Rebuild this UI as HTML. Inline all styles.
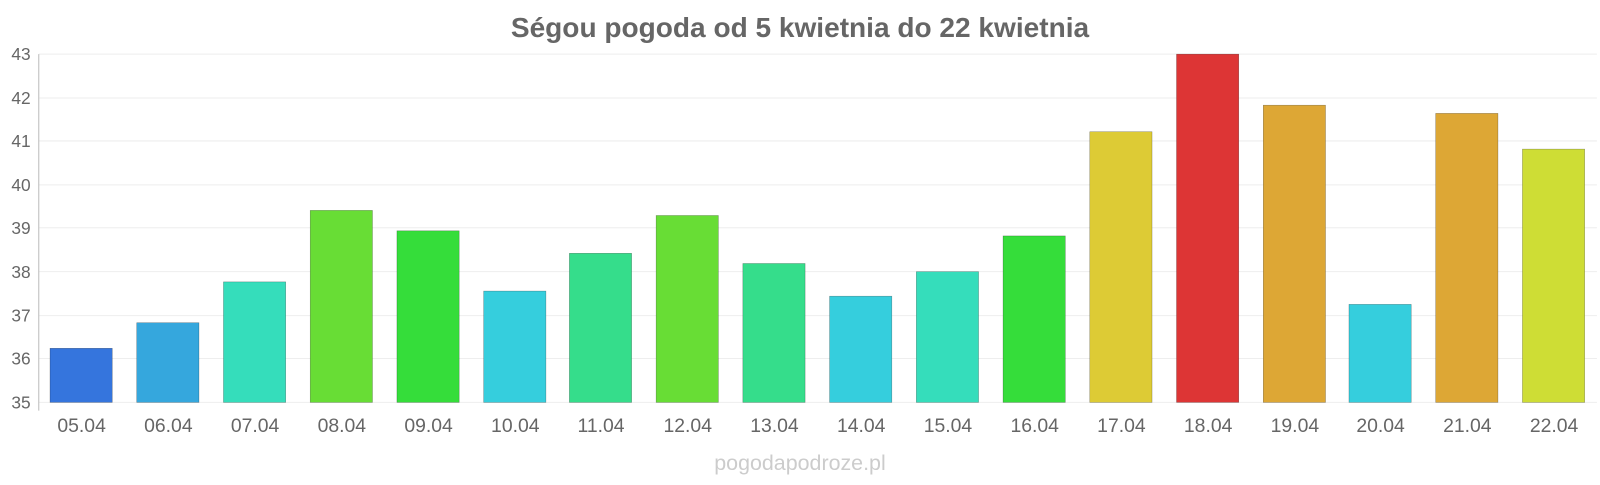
<!DOCTYPE html>
<html><head><meta charset="utf-8"><style>
body{margin:0;background:#fff;width:1600px;height:480px;overflow:hidden;font-family:"Liberation Sans",sans-serif}
</style></head><body>
<svg width="1600" height="480" xmlns="http://www.w3.org/2000/svg" font-family="Liberation Sans, sans-serif">
<g transform="scale(1.0204,1.0213)">
<text x="784" y="36" text-anchor="middle" font-size="27.5" font-weight="bold" fill="#666">Ségou pogoda od 5 kwietnia do 22 kwietnia</text>
<g stroke="#eee" stroke-width="1">
<line x1="38" x2="1565" y1="53" y2="53"/><line x1="38" x2="1565" y1="96" y2="96"/><line x1="38" x2="1565" y1="138" y2="138"/><line x1="38" x2="1565" y1="181" y2="181"/><line x1="38" x2="1565" y1="223" y2="223"/><line x1="38" x2="1565" y1="266" y2="266"/><line x1="38" x2="1565" y1="309" y2="309"/><line x1="38" x2="1565" y1="351" y2="351"/><line x1="38" x2="1565" y1="394" y2="394"/>
</g>
<line x1="38" x2="38" y1="53" y2="402" stroke="#bbb"/>
<g font-size="17" fill="#666" text-anchor="end">
<text x="30" y="59">43</text><text x="30" y="102">42</text><text x="30" y="144">41</text><text x="30" y="187">40</text><text x="30" y="229">39</text><text x="30" y="272">38</text><text x="30" y="315">37</text><text x="30" y="357">36</text><text x="30" y="400">35</text>
</g>
<g stroke-opacity="0.4" stroke="#000" stroke-width="0.5">
<rect x="49" y="341" width="61" height="53" fill="#3575dd"/>
<rect x="134" y="316" width="61" height="78" fill="#35a7dd"/>
<rect x="219" y="276" width="61" height="118" fill="#35ddbb"/>
<rect x="304" y="206" width="61" height="188" fill="#68dd35"/>
<rect x="389" y="226" width="61" height="168" fill="#35dd3a"/>
<rect x="474" y="285" width="61" height="109" fill="#35cedd"/>
<rect x="558" y="248" width="61" height="146" fill="#35dd8b"/>
<rect x="643" y="211" width="61" height="183" fill="#68dd35"/>
<rect x="728" y="258" width="61" height="136" fill="#35dd8b"/>
<rect x="813" y="290" width="61" height="104" fill="#35cedd"/>
<rect x="898" y="266" width="61" height="128" fill="#35ddbb"/>
<rect x="983" y="231" width="61" height="163" fill="#35dd3a"/>
<rect x="1068" y="129" width="61" height="265" fill="#ddcb35"/>
<rect x="1153" y="53" width="61" height="341" fill="#dd3535"/>
<rect x="1238" y="103" width="61" height="291" fill="#dda735"/>
<rect x="1322" y="298" width="61" height="96" fill="#35cedd"/>
<rect x="1407" y="111" width="61" height="283" fill="#dda735"/>
<rect x="1492" y="146" width="61" height="248" fill="#cedd35"/>
</g>
<g font-size="19" fill="#666" text-anchor="middle">
<text x="80" y="423">05.04</text><text x="165" y="423">06.04</text><text x="250" y="423">07.04</text><text x="335" y="423">08.04</text><text x="420" y="423">09.04</text><text x="505" y="423">10.04</text><text x="589" y="423">11.04</text><text x="674" y="423">12.04</text><text x="759" y="423">13.04</text><text x="844" y="423">14.04</text><text x="929" y="423">15.04</text><text x="1014" y="423">16.04</text><text x="1099" y="423">17.04</text><text x="1184" y="423">18.04</text><text x="1269" y="423">19.04</text><text x="1353" y="423">20.04</text><text x="1438" y="423">21.04</text><text x="1523" y="423">22.04</text>
</g>
<text x="784" y="460" text-anchor="middle" font-size="21" fill="#ccc">pogodapodroze.pl</text>
</g>
</svg>
</body></html>
